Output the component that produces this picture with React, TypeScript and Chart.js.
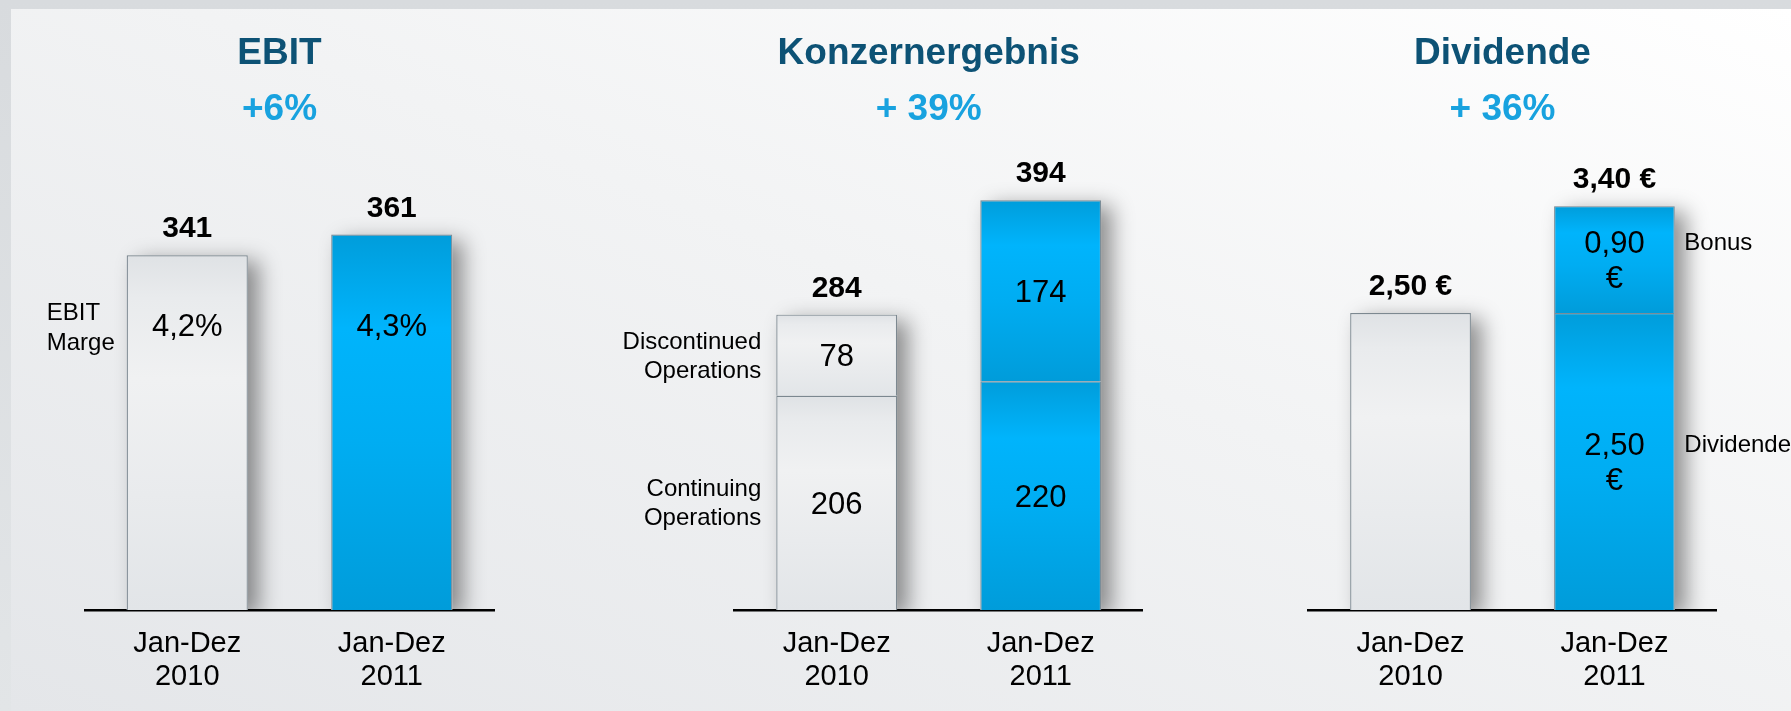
import React, { useEffect, useRef } from "react";
import { Chart, registerables } from "chart.js";

Chart.register(...registerables);

const FONT = '"Liberation Sans", Arial, Helvetica, sans-serif';

// ---------- data ----------
const categories = [["Jan-Dez", "2010"], ["Jan-Dez", "2011"]];

const ebitTitle = "EBIT";
const ebitChange = "+6%";
const ebitValues = [341, 361];
const ebitTotalLabels = ["341", "361"];
const ebitMarginLabels = ["4,2%", "4,3%"];
const ebitSideLabel = ["EBIT", "Marge"];

const konzernTitle = "Konzernergebnis";
const konzernChange = "+ 39%";
const konzernContinuing = [206, 220];
const konzernDiscontinued = [78, 174];
const konzernTotalLabels = ["284", "394"];
const konzernContinuingLabels = ["206", "220"];
const konzernDiscontinuedLabels = ["78", "174"];
const konzernSideContinuing = ["Continuing", "Operations"];
const konzernSideDiscontinued = ["Discontinued", "Operations"];

const dividendeTitle = "Dividende";
const dividendeChange = "+ 36%";
const dividendeBase = [2.5, 2.5];
const dividendeBonus: (number | null)[] = [null, 0.9];
const dividendeTotalLabels = ["2,50 €", "3,40 €"];
const dividendeBaseLabels: (string[] | null)[] = [null, ["2,50", "€"]];
const dividendeBonusLabels: (string[] | null)[] = [null, ["0,90", "€"]];
const dividendeSideBase = "Dividende";
const dividendeSideBonus = "Bonus";

// ---------- styling helpers ----------
const TITLE_COLOR = "#0d5275";
const CHANGE_COLOR = "#18a2df";
const INNER_FONT = `31px ${FONT}`;
const SIDE_FONT = `24px ${FONT}`;
const VALUE_FONT = `bold 30px ${FONT}`;

function barFill(values: (number | null)[], bases: number[] | null) {
  return (c: any) => {
    const chart = c.chart;
    const y = chart.scales && chart.scales.y;
    const i = c.dataIndex;
    const v = values[i];
    if (v == null) return "rgba(0,0,0,0)";
    if (!y || !chart.chartArea) return i === 0 ? "#eaecee" : "#00aeef";
    const b = bases ? bases[i] : 0;
    const top = y.getPixelForValue(b + v);
    const bottom = y.getPixelForValue(b);
    const g = chart.ctx.createLinearGradient(0, top, 0, bottom === top ? top + 1 : bottom);
    if (i === 0) {
      g.addColorStop(0, "#dfe2e5");
      g.addColorStop(0.12, "#e9ebed");
      g.addColorStop(0.35, "#f0f1f2");
      g.addColorStop(1, "#e2e5e8");
    } else {
      g.addColorStop(0, "#009ddb");
      g.addColorStop(0.25, "#00b4fc");
      g.addColorStop(0.55, "#00adf2");
      g.addColorStop(1, "#009cda");
    }
    return g;
  };
}

function text(ctx: CanvasRenderingContext2D, s: string, x: number, y: number, font: string, color: string, align: CanvasTextAlign = "center") {
  ctx.save();
  ctx.font = font;
  ctx.fillStyle = color;
  ctx.textAlign = align;
  ctx.textBaseline = "alphabetic";
  ctx.fillText(s, x, y);
  ctx.restore();
}

function drawHeader(chart: any, title: string, change: string) {
  const ca = chart.chartArea;
  const cx = (ca.left + ca.right) / 2 - 10;
  text(chart.ctx, title, cx, 64, `bold 37px ${FONT}`, TITLE_COLOR);
  text(chart.ctx, change, cx, 120, `bold 37px ${FONT}`, CHANGE_COLOR);
}

function stackTops(chart: any) {
  const n = chart.data.labels.length;
  const res: { x: number; w: number; top: number; base: number }[] = [];
  for (let i = 0; i < n; i++) {
    let top = Infinity, base = -Infinity, x = 0, w = 0;
    chart.data.datasets.forEach((ds: any, di: number) => {
      if (ds.data[i] == null) return;
      const el = chart.getDatasetMeta(di).data[i] as any;
      top = Math.min(top, el.y);
      base = Math.max(base, el.base);
      x = el.x;
      w = el.width;
    });
    res.push({ x, w, top, base });
  }
  return res;
}

const shadowPlugin = {
  id: "barShadow",
  beforeDatasetsDraw(chart: any) {
    const ctx = chart.ctx;
    const ca = chart.chartArea;
    ctx.save();
    ctx.beginPath();
    ctx.rect(0, 0, chart.width, ca.bottom);
    ctx.clip();
    ctx.shadowColor = "rgba(0,0,0,0.42)";
    ctx.shadowBlur = 20;
    ctx.shadowOffsetX = 11;
    ctx.shadowOffsetY = 6;
    ctx.fillStyle = "#d8dbde";
    stackTops(chart).forEach((s) => {
      ctx.fillRect(s.x - s.w / 2, s.top, s.w, s.base - s.top);
    });
    ctx.restore();
  },
};

function baseOptions(padLeft: number, padRight: number, yMax: number, stacked: boolean) {
  return {
    responsive: false,
    maintainAspectRatio: false,
    animation: false as const,
    layout: { padding: { left: padLeft, right: padRight, top: 142, bottom: 0 } },
    plugins: { legend: { display: false }, tooltip: { enabled: false }, title: { display: false } },
    datasets: { bar: { categoryPercentage: 1, barPercentage: 0.592 } },
    scales: {
      x: {
        stacked,
        grid: { display: false, drawTicks: false },
        border: { display: true, color: "#000000", width: 2.5 },
        ticks: {
          color: "#000000",
          padding: 17.5,
          maxRotation: 0,
          autoSkip: false,
          font: { family: FONT, size: 29, lineHeight: 1.138 },
        },
      },
      y: { display: false, stacked, min: 0, max: yMax },
    },
  };
}

const BAR_BORDER = { top: 1.2, left: 1.2, right: 1.2, bottom: 0 };
const borderColors = ["#7c8890", "#7a8d98"];

function ebitConfig(): any {
  return {
    type: "bar",
    data: {
      labels: categories,
      datasets: [
        {
          data: ebitValues,
          backgroundColor: barFill(ebitValues, null),
          borderColor: borderColors,
          borderWidth: BAR_BORDER,
          borderSkipped: false,
        },
      ],
    },
    options: baseOptions(85, 126, 450, false),
    plugins: [
      shadowPlugin,
      {
        id: "ebitLabels",
        afterDraw(chart: any) {
          const ctx = chart.ctx;
          drawHeader(chart, ebitTitle, ebitChange);
          const meta = chart.getDatasetMeta(0);
          const marginY = chart.chartArea.bottom - 274;
          meta.data.forEach((el: any, i: number) => {
            text(ctx, ebitTotalLabels[i], el.x, el.y - 18, VALUE_FONT, "#000");
            text(ctx, ebitMarginLabels[i], el.x, marginY, INNER_FONT, "#000");
          });
          const e0: any = meta.data[0];
          const sx = e0.x - e0.width / 2 - 80;
          text(ctx, ebitSideLabel[0], sx, marginY - 16, SIDE_FONT, "#000", "left");
          text(ctx, ebitSideLabel[1], sx, marginY + 14, SIDE_FONT, "#000", "left");
        },
      },
    ],
  };
}

function konzernConfig(): any {
  return {
    type: "bar",
    data: {
      labels: categories,
      datasets: [
        {
          data: konzernContinuing,
          backgroundColor: barFill(konzernContinuing, null),
          borderColor: borderColors,
          borderWidth: BAR_BORDER,
          borderSkipped: false,
        },
        {
          data: konzernDiscontinued,
          backgroundColor: barFill(konzernDiscontinued, konzernContinuing),
          borderColor: borderColors,
          borderWidth: BAR_BORDER,
          borderSkipped: false,
        },
      ],
    },
    options: baseOptions(114.7, 77.3, 450, true),
    plugins: [
      shadowPlugin,
      {
        id: "konzernLabels",
        afterDraw(chart: any) {
          const ctx = chart.ctx;
          drawHeader(chart, konzernTitle, konzernChange);
          stackTops(chart).forEach((s, i) => {
            text(ctx, konzernTotalLabels[i], s.x, s.top - 18, VALUE_FONT, "#000");
          });
          const lab = [konzernContinuingLabels, konzernDiscontinuedLabels];
          const side = [konzernSideContinuing, konzernSideDiscontinued];
          [0, 1].forEach((di) => {
            const meta = chart.getDatasetMeta(di);
            meta.data.forEach((el: any, i: number) => {
              const cy = (el.y + el.base) / 2;
              text(ctx, lab[di][i], el.x, cy + 11, INNER_FONT, "#000");
            });
            const e0: any = meta.data[0];
            const cy0 = (e0.y + e0.base) / 2;
            const sx = e0.x - e0.width / 2 - 15;
            text(ctx, side[di][0], sx, cy0 - 6.5, SIDE_FONT, "#000", "right");
            text(ctx, side[di][1], sx, cy0 + 22.5, SIDE_FONT, "#000", "right");
          });
        },
      },
    ],
  };
}

function dividendeConfig(): any {
  return {
    type: "bar",
    data: {
      labels: categories,
      datasets: [
        {
          data: dividendeBase,
          backgroundColor: barFill(dividendeBase, null),
          borderColor: borderColors,
          borderWidth: BAR_BORDER,
          borderSkipped: false,
        },
        {
          data: dividendeBonus,
          backgroundColor: barFill(dividendeBonus, dividendeBase),
          borderColor: borderColors,
          borderWidth: BAR_BORDER,
          borderSkipped: false,
        },
      ],
    },
    options: baseOptions(88.6, 74.6, 3.94, true),
    plugins: [
      shadowPlugin,
      {
        id: "dividendeLabels",
        afterDraw(chart: any) {
          const ctx = chart.ctx;
          drawHeader(chart, dividendeTitle, dividendeChange);
          stackTops(chart).forEach((s, i) => {
            text(ctx, dividendeTotalLabels[i], s.x, s.top - 18, VALUE_FONT, "#000");
          });
          const lab = [dividendeBaseLabels, dividendeBonusLabels];
          const side = [dividendeSideBase, dividendeSideBonus];
          [0, 1].forEach((di) => {
            const meta = chart.getDatasetMeta(di);
            meta.data.forEach((el: any, i: number) => {
              const lines = lab[di][i];
              if (!lines) return;
              const cy = (el.y + el.base) / 2;
              const firstCap = cy - ((lines.length - 1) * 35) / 2;
              lines.forEach((ln, k) => {
                text(ctx, ln, el.x, firstCap + k * 35 + 11, INNER_FONT, "#000");
              });
              if (i === 1) {
                const sx = el.x + el.width / 2 + 9.5;
                text(ctx, side[di], sx, firstCap + 8, SIDE_FONT, "#000", "left");
              }
            });
          });
        },
      },
    ],
  };
}

function Panel({ left, width, make }: { left: number; width: number; make: () => any }) {
  const ref = useRef<HTMLCanvasElement | null>(null);
  useEffect(() => {
    if (!ref.current) return;
    const chart = new Chart(ref.current, make());
    return () => chart.destroy();
  }, []);
  return (
    <canvas
      ref={ref}
      width={width}
      height={711}
      style={{ position: "absolute", left, top: 0, width, height: 711 }}
    />
  );
}

export default function App() {
  useEffect(() => {
    document.body.style.margin = "0";
    document.body.style.overflow = "hidden";
  }, []);
  return (
    <div
      style={{
        position: "absolute",
        left: 0,
        top: 0,
        width: 1791,
        height: 711,
        overflow: "hidden",
        background: "linear-gradient(to bottom, #d8dbde, #e2e5e7)",
      }}
    >
      <div
        style={{
          position: "absolute",
          left: 11,
          top: 9,
          right: 0,
          bottom: 0,
          background: "linear-gradient(to bottom left, #ffffff 0%, #f2f3f4 45%, #e4e6e9 100%)",
        }}
      />
      <Panel left={0} width={620} make={ebitConfig} />
      <Panel left={620} width={600} make={konzernConfig} />
      <Panel left={1220} width={571} make={dividendeConfig} />
    </div>
  );
}
